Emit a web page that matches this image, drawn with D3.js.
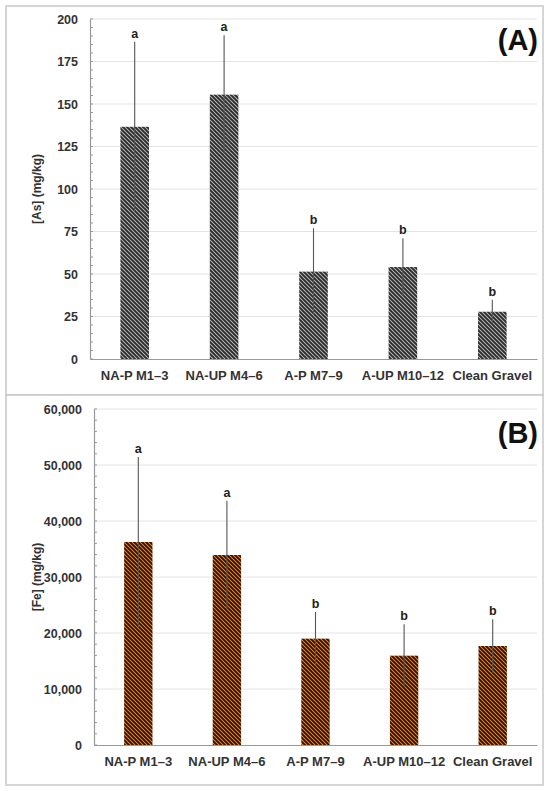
<!DOCTYPE html>
<html>
<head>
<meta charset="utf-8">
<script src="https://cdn.jsdelivr.net/npm/d3@7"></script>
<style>
  html,body{margin:0;padding:0;background:#fff;}
  svg{display:block;font-family:"Liberation Sans",Arial,sans-serif;}
</style>
</head>
<body>
<svg id="chart" width="550" height="791"></svg>
<script>
// ---- data ----
const categories = ["NA-P M1–3", "NA-UP M4–6", "A-P M7–9", "A-UP M10–12", "Clean Gravel"];
const asMean = [136.6, 155.5, 51.4, 54.1, 27.8];
const asErr = [50, 35, 25.5, 17, 7];
const asLetters = ["a", "a", "b", "b", "b"];
const asTicks = [0, 25, 50, 75, 100, 125, 150, 175, 200];
const feMean = [36250, 33930, 18990, 15950, 17680];
const feErr = [15200, 9700, 4760, 5600, 4760];
const feLetters = ["a", "a", "b", "b", "b"];
const feTicks = [0, 10000, 20000, 30000, 40000, 50000, 60000];

const svg = d3.select("#chart");
const defs = svg.append("defs");

function hatch(id, bg, fg, sw) {
  const p = defs.append("pattern").attr("id", id)
    .attr("patternUnits", "userSpaceOnUse").attr("width", 4).attr("height", 4);
  p.append("rect").attr("width", 4).attr("height", 4).attr("fill", bg);
  p.append("path").attr("d", "M-1,-1L5,5M-1,3L1,5M3,-1L5,1")
    .attr("stroke", fg).attr("stroke-width", sw);
}
hatch("hatchA", "#b8b8b8", "#2a2a2a", 1.9);
hatch("hatchB", "#f07a1e", "#151515", 1.7);

function panel(cfg) {
  const g = svg.append("g");
  // frame
  g.append("rect").attr("x", cfg.box[0]).attr("y", cfg.box[1])
    .attr("width", cfg.box[2]).attr("height", cfg.box[3])
    .attr("fill", "#fff").attr("stroke", "#c8c8c8").attr("stroke-width", 1.5);

  const x = d3.scaleBand().domain(categories).range([cfg.x0, cfg.x1]).paddingInner(0.68).paddingOuter(0.34);
  const y = d3.scaleLinear().domain([0, cfg.max]).range([cfg.y0, cfg.y1]);

  // gridlines
  g.append("g").selectAll("line").data(cfg.ticks.filter(t => t > 0)).join("line")
    .attr("x1", cfg.x0).attr("x2", cfg.x1)
    .attr("y1", d => y(d)).attr("y2", d => y(d))
    .attr("stroke", "#e4e4e4").attr("stroke-width", 1);

  // minor ticks
  g.append("g").selectAll("line").data(d3.range(0, cfg.max + 1e-9, cfg.minor)).join("line")
    .attr("x1", cfg.x0).attr("x2", cfg.x0 + 3)
    .attr("y1", d => y(d)).attr("y2", d => y(d))
    .attr("stroke", "#999").attr("stroke-width", 1);

  // y axis
  const yAxis = d3.axisLeft(y).tickValues(cfg.ticks).tickSize(0).tickPadding(cfg.tickPad)
    .tickFormat(cfg.fmt);
  const ya = g.append("g").attr("transform", `translate(${cfg.x0},0)`).call(yAxis);
  ya.select(".domain").attr("stroke", "#999").attr("stroke-width", 1.2);
  ya.selectAll("text").attr("font-size", 12.5).attr("font-weight", "bold").attr("fill", "#333")
    .attr("font-family", "'Liberation Sans',Arial,sans-serif");

  // bars
  g.append("g").selectAll("rect").data(cfg.mean).join("rect")
    .attr("x", (d, i) => x(categories[i])).attr("width", x.bandwidth())
    .attr("y", d => y(d)).attr("height", d => y(0) - y(d))
    .attr("fill", `url(#${cfg.pattern})`);

  // error bars
  g.append("g").selectAll("line").data(cfg.mean).join("line")
    .attr("x1", (d, i) => x(categories[i]) + x.bandwidth() / 2)
    .attr("x2", (d, i) => x(categories[i]) + x.bandwidth() / 2)
    .attr("y1", (d, i) => y(d - cfg.err[i])).attr("y2", (d, i) => y(d + cfg.err[i]))
    .attr("stroke", "#555").attr("stroke-width", 1.1);

  // letters
  g.append("g").selectAll("text").data(cfg.mean).join("text")
    .attr("x", (d, i) => x(categories[i]) + x.bandwidth() / 2)
    .attr("y", (d, i) => y(d + cfg.err[i]) - 4)
    .attr("text-anchor", "middle").attr("font-size", 12.5).attr("font-weight", "bold").attr("fill", "#222")
    .text((d, i) => cfg.letters[i]);

  // x axis
  const xAxis = d3.axisBottom(x).tickSize(0).tickPadding(cfg.xPad);
  const xa = g.append("g").attr("transform", `translate(0,${cfg.y0})`).call(xAxis);
  xa.select(".domain").attr("stroke", "#999").attr("stroke-width", 1.2);
  xa.selectAll("text").attr("font-size", 13).attr("font-weight", "bold").attr("fill", "#333")
    .attr("font-family", "'Liberation Sans',Arial,sans-serif");

  // y title
  g.append("text").attr("transform", `translate(${cfg.titleX},${(cfg.y0 + cfg.y1) / 2}) rotate(-90)`)
    .attr("text-anchor", "middle").attr("font-size", 12).attr("font-weight", "bold").attr("fill", "#333")
    .text(cfg.title);

  // panel label
  g.append("text").attr("x", 538).attr("y", cfg.labelY).attr("text-anchor", "end")
    .attr("font-size", 29).attr("font-weight", "bold").attr("fill", "#111")
    .text(cfg.label);
}

panel({
  box: [6, 6, 537, 389], x0: 90, x1: 537, y0: 359, y1: 19, max: 200, minor: 5,
  ticks: asTicks, fmt: d3.format("d"), tickPad: 12, xPad: 12,
  mean: asMean, err: asErr, letters: asLetters, pattern: "hatchA",
  title: "[As] (mg/kg)", titleX: 41, label: "(A)", labelY: 50
});
panel({
  box: [6, 395, 537, 390], x0: 94, x1: 537, y0: 745, y1: 409, max: 60000, minor: 2000,
  ticks: feTicks, fmt: d3.format(","), tickPad: 12, xPad: 12,
  mean: feMean, err: feErr, letters: feLetters, pattern: "hatchB",
  title: "[Fe] (mg/kg)", titleX: 41, label: "(B)", labelY: 443
});
</script>
</body>
</html>
